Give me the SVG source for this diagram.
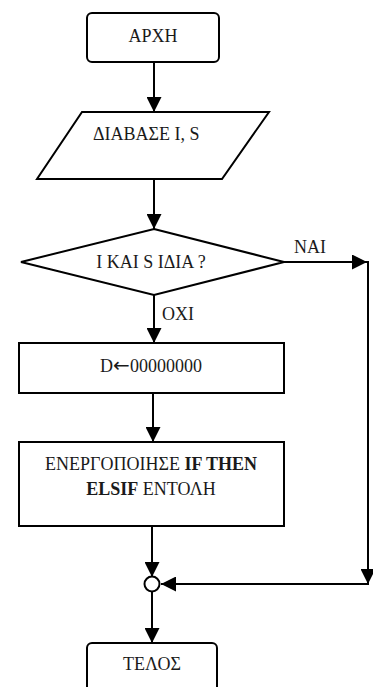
<svg xmlns="http://www.w3.org/2000/svg" width="373" height="687" viewBox="0 0 373 687">
<style>
.s{fill:#fff;stroke:#000;stroke-width:2}
.l{fill:none;stroke:#000;stroke-width:2}
text{font-family:'Liberation Serif','Times New Roman',serif;font-size:18px;fill:#1a1a1a}
.c{text-anchor:middle}
.b{font-weight:bold}
.ar{font-family:'DejaVu Sans',sans-serif;font-size:20px}
</style>
<defs>
<marker id="ah" viewBox="0 0 15 15" refX="15" refY="7.5" markerWidth="15" markerHeight="15" markerUnits="userSpaceOnUse" orient="auto">
<path d="M0,0 L15,7.5 L0,15 Z" fill="#000"/>
</marker>
</defs>
<rect width="373" height="687" fill="#fff"/>
<g id="connectors">
<line class="l" x1="154" y1="62" x2="154" y2="112" marker-end="url(#ah)"/>
<line class="l" x1="154" y1="179" x2="154" y2="229" marker-end="url(#ah)"/>
<line class="l" x1="154" y1="295" x2="154" y2="343" marker-end="url(#ah)"/>
<line class="l" x1="284" y1="262" x2="367" y2="262" marker-end="url(#ah)"/>
<line class="l" x1="368" y1="261" x2="368" y2="584" marker-end="url(#ah)"/>
<line class="l" x1="369" y1="584" x2="161" y2="584" marker-end="url(#ah)"/>
<line class="l" x1="153" y1="393" x2="153" y2="442" marker-end="url(#ah)"/>
<line class="l" x1="152" y1="526" x2="152" y2="577" marker-end="url(#ah)"/>
<line class="l" x1="152" y1="592" x2="152" y2="643" marker-end="url(#ah)"/>
<text x="294" y="253">ΝΑΙ</text>
<text x="162" y="320">ΟΧΙ</text>
</g>
<g id="start">
<rect class="s" x="87" y="13" width="132" height="49" rx="5"/>
<text class="c" x="153" y="42">ΑΡΧΗ</text>
</g>
<g id="read">
<polygon class="s" points="82,112 269,112 222,179 37,179"/>
<text x="93" y="140">ΔΙΑΒΑΣΕ Ι, S</text>
</g>
<g id="decision">
<polygon class="s" points="154,229 284,262 154,295 21,262"/>
<text class="c" x="151" y="268">Ι ΚΑΙ S ΙΔΙΑ ?</text>
</g>
<g id="assign">
<rect class="s" x="19" y="343" width="265" height="50"/>
<text class="c" x="151" y="372">D<tspan class="ar">←</tspan>00000000</text>
</g>
<g id="activate">
<rect class="s" x="19" y="442" width="265" height="84"/>
<text class="c" x="151" y="470">ΕΝΕΡΓΟΠΟΙΗΣΕ <tspan class="b">IF THEN</tspan></text>
<text class="c" x="151" y="495"><tspan class="b">ELSIF</tspan>  ΕΝΤΟΛΗ</text>
</g>
<g id="join">
<circle class="s" cx="152" cy="584" r="7.5"/>
</g>
<g id="end">
<rect class="s" x="87" y="643" width="130" height="60" rx="5"/>
<text class="c" x="152" y="670">ΤΕΛΟΣ</text>
</g>
</svg>
